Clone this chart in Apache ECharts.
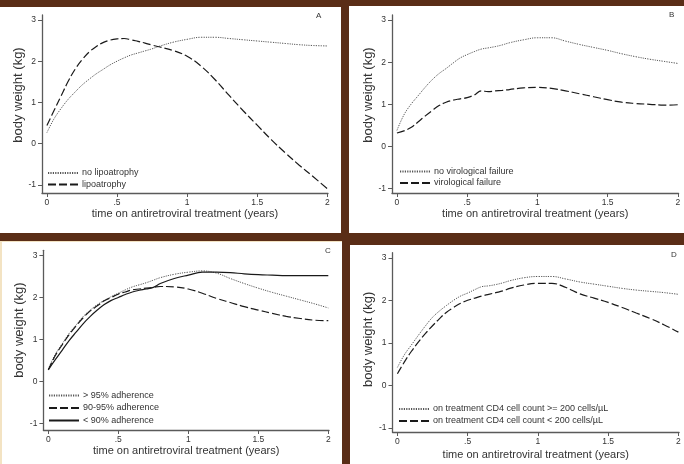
<!DOCTYPE html>
<html>
<head>
<meta charset="utf-8">
<script src="https://cdn.jsdelivr.net/npm/echarts@6/dist/echarts.min.js"></script>
<style>
html,body{margin:0;padding:0;background:#5a2d17;}
#c{width:684px;height:464px;}
</style>
</head>
<body>
<div id="c"></div>
<script>
// ---- data (years on ART, body weight change in kg) ----
const time = [0, 0.05, 0.1, 0.15, 0.2, 0.25, 0.3, 0.35, 0.4, 0.45, 0.5, 0.55, 0.6, 0.65, 0.7, 0.75, 0.8, 0.9, 1.0, 1.1, 1.2, 1.3, 1.4, 1.5, 1.6, 1.7, 1.8, 1.9, 2.0];

// Panel A
const noLipoatrophy = [0.27, 0.6, 0.85, 1.07, 1.25, 1.42, 1.56, 1.69, 1.80, 1.91, 2.0, 2.08, 2.15, 2.2, 2.25, 2.3, 2.36, 2.46, 2.53, 2.58, 2.58, 2.55, 2.52, 2.49, 2.46, 2.43, 2.40, 2.38, 2.37];
const lipoatrophy = [0.44, 0.8, 1.15, 1.5, 1.8, 2.03, 2.22, 2.35, 2.45, 2.51, 2.54, 2.55, 2.52, 2.48, 2.44, 2.39, 2.35, 2.26, 2.12, 1.88, 1.55, 1.17, 0.8, 0.45, 0.1, -0.22, -0.52, -0.8, -1.09];
// Panel B
const noVirologicalFailure = [0.38, 0.75, 1.0, 1.2, 1.4, 1.58, 1.73, 1.85, 1.98, 2.1, 2.18, 2.25, 2.31, 2.34, 2.37, 2.41, 2.46, 2.53, 2.58, 2.58, 2.5, 2.42, 2.35, 2.28, 2.2, 2.13, 2.07, 2.02, 1.97];
const virologicalFailure = [0.32, 0.37, 0.45, 0.58, 0.72, 0.85, 0.97, 1.05, 1.1, 1.13, 1.16, 1.22, 1.32, 1.3, 1.32, 1.33, 1.35, 1.39, 1.4, 1.38, 1.32, 1.25, 1.18, 1.11, 1.05, 1.02, 1.0, 0.98, 0.99];
// Panel C
const adherenceOver95 = [0.3, 0.65, 0.9, 1.15, 1.35, 1.55, 1.7, 1.83, 1.93, 2.02, 2.1, 2.18, 2.25, 2.3, 2.35, 2.41, 2.47, 2.55, 2.6, 2.63, 2.58, 2.45, 2.33, 2.22, 2.12, 2.03, 1.94, 1.85, 1.75];
const adherence90to95 = [0.28, 0.62, 0.88, 1.12, 1.33, 1.52, 1.68, 1.8, 1.92, 2.0, 2.08, 2.13, 2.18, 2.2, 2.22, 2.24, 2.26, 2.25, 2.2, 2.1, 1.98, 1.88, 1.78, 1.7, 1.62, 1.55, 1.5, 1.46, 1.45];
const adherenceUnder90 = [0.28, 0.52, 0.75, 0.98, 1.18, 1.38, 1.55, 1.7, 1.83, 1.93, 2.0, 2.07, 2.13, 2.17, 2.2, 2.24, 2.33, 2.45, 2.53, 2.6, 2.6, 2.59, 2.56, 2.54, 2.53, 2.52, 2.52, 2.52, 2.52];
// Panel D
const cd4AtLeast200 = [0.42, 0.72, 0.95, 1.18, 1.4, 1.6, 1.75, 1.88, 2.0, 2.1, 2.17, 2.25, 2.32, 2.34, 2.37, 2.41, 2.46, 2.53, 2.56, 2.56, 2.5, 2.43, 2.38, 2.33, 2.28, 2.24, 2.21, 2.18, 2.14];
const cd4Under200 = [0.27, 0.55, 0.8, 1.02, 1.22, 1.4, 1.57, 1.72, 1.83, 1.93, 2.0, 2.05, 2.1, 2.14, 2.18, 2.22, 2.28, 2.36, 2.4, 2.4, 2.3, 2.15, 2.05, 1.95, 1.83, 1.7, 1.57, 1.42, 1.25];

// ticks
const xTicks = [0, 0.5, 1, 1.5, 2];
const xTickLabels = ['0', '.5', '1', '1.5', '2'];
const yTicks = [-1, 0, 1, 2, 3];
const yTickLabels = ['-1', '0', '1', '2', '3'];

const panelLetters = ['A', 'B', 'C', 'D'];
const xTitle = 'time on antiretroviral treatment (years)';
const yTitle = 'body weight (kg)';

// ---- layout ----
const FONT = '"Liberation Sans", Arial, sans-serif';
const grids = [
  {left: 42, top: 15, width: 286, height: 178, ymin: -1.194, yShift: 18, xGap: 15},
  {left: 392, top: 15, width: 286.6, height: 178, ymin: -1.105, yShift: 18, xGap: 15},
  {left: 43.4, top: 250.3, width: 285.6, height: 179.7, ymin: -1.15, yShift: 20, xGap: 15},
  {left: 392.5, top: 252.7, width: 286.6, height: 179.3, ymin: -1.1, yShift: 6, xGap: 17}
];
const letterPos = [[319, 17], [672, 16], [328, 252], [674, 256]];
const legendPos = [
  {left: 47, top: 168.5, gap: 2.5},
  {left: 399, top: 167, gap: 2.5},
  {left: 48, top: 391, gap: 3.5},
  {left: 398, top: 404.5, gap: 3}
];

const axisColor = '#5a5a5a';
const textColor = '#333';

function lookup(ticks, labels) {
  return v => {
    for (let i = 0; i < ticks.length; i++) if (Math.abs(ticks[i] - v) < 1e-6) return labels[i];
    return '';
  };
}

const xAxes = grids.map((g, i) => ({
  gridIndex: i, type: 'value', min: -0.035, max: 2.005,
  axisLine: {show: true, onZero: false, lineStyle: {color: axisColor, width: 1.3}},
  axisTick: {show: true, length: 4, customValues: xTicks, lineStyle: {color: axisColor, width: 1}},
  axisLabel: {show: true, margin: 5, customValues: xTicks, formatter: lookup(xTicks, xTickLabels),
              fontSize: 8.5, color: textColor, fontFamily: FONT},
  splitLine: {show: false},
  name: xTitle, nameLocation: 'middle', nameGap: g.xGap,
  nameTextStyle: {fontSize: 11, color: textColor, fontFamily: FONT}
}));
const yAxes = grids.map((g, i) => ({
  gridIndex: i, type: 'value', min: g.ymin, max: 3.12,
  axisLine: {show: true, onZero: false, lineStyle: {color: axisColor, width: 1.3}},
  axisTick: {show: true, length: 4, customValues: yTicks, lineStyle: {color: axisColor, width: 1}},
  axisLabel: {show: true, margin: 6, customValues: yTicks, formatter: lookup(yTicks, yTickLabels),
              fontSize: 8.5, color: textColor, fontFamily: FONT},
  splitLine: {show: false},
  name: yTitle, nameLocation: 'middle', nameGap: 17,
  nameTextStyle: {fontSize: 13, color: textColor, fontFamily: FONT, padding: [0, 0, 0, g.yShift]}
}));

const DOT = {type: [1.2, 1.2], color: '#555', width: 1};
const DASH = {type: [8, 3], color: '#1a1a1a', width: 1.2};
const SOLID = {type: 'solid', color: '#1a1a1a', width: 1.2};

const seriesDefs = [
  {name: 'no lipoatrophy', vals: noLipoatrophy, g: 0, ls: DOT},
  {name: 'lipoatrophy', vals: lipoatrophy, g: 0, ls: DASH},
  {name: 'no virological failure', vals: noVirologicalFailure, g: 1, ls: DOT},
  {name: 'virological failure', vals: virologicalFailure, g: 1, ls: DASH},
  {name: '> 95% adherence', vals: adherenceOver95, g: 2, ls: DOT},
  {name: '90-95% adherence', vals: adherence90to95, g: 2, ls: DASH},
  {name: '< 90% adherence', vals: adherenceUnder90, g: 2, ls: SOLID},
  {name: 'on treatment CD4 cell count >= 200 cells/µL', vals: cd4AtLeast200, g: 3, ls: DOT},
  {name: 'on treatment CD4 cell count < 200 cells/µL', vals: cd4Under200, g: 3, ls: DASH}
];

const series = seriesDefs.map(s => ({
  name: s.name, type: 'line', xAxisIndex: s.g, yAxisIndex: s.g,
  data: time.map((t, i) => [t, s.vals[i]]),
  smooth: 0.4, symbol: 'none', showSymbol: false,
  lineStyle: Object.assign({}, s.ls),
  itemStyle: {color: s.ls.color},
  animation: false, silent: true
}));

const legends = legendPos.map((p, gi) => ({
  orient: 'vertical', left: p.left, top: p.top, itemGap: p.gap, padding: 0,
  itemWidth: 30, itemHeight: 8, selectedMode: false,
  itemStyle: {opacity: 0},
  textStyle: {fontSize: 9, color: textColor, fontFamily: FONT, padding: [0, 0, 0, -1]},
  data: seriesDefs.filter(s => s.g === gi).map(s => s.name)
}));

const graphic = [
  {type: 'rect', z: -10, shape: {x: 0, y: 7, width: 341, height: 226}, style: {fill: '#fff'}},
  {type: 'rect', z: -10, shape: {x: 349, y: 6, width: 335, height: 227}, style: {fill: '#fff'}},
  {type: 'rect', z: -10, shape: {x: 0, y: 241, width: 342, height: 223}, style: {fill: '#f3e3c3'}},
  {type: 'rect', z: -10, shape: {x: 2, y: 242, width: 340, height: 222}, style: {fill: '#fff'}},
  {type: 'rect', z: -10, shape: {x: 350, y: 245, width: 334, height: 219}, style: {fill: '#fff'}}
].concat(letterPos.map((p, i) => ({
  type: 'text', z: 10, left: p[0] - 3, top: p[1] - 5,
  style: {text: panelLetters[i], fill: textColor, font: '8px ' + FONT}
})));

const chart = echarts.init(document.getElementById('c'), null, {renderer: 'canvas'});
chart.setOption({
  backgroundColor: '#5a2d17',
  animation: false,
  grid: grids.map(g => ({left: g.left, top: g.top, width: g.width, height: g.height, containLabel: false})),
  xAxis: xAxes,
  yAxis: yAxes,
  legend: legends,
  graphic: graphic,
  series: series
});
</script>
</body>
</html>
